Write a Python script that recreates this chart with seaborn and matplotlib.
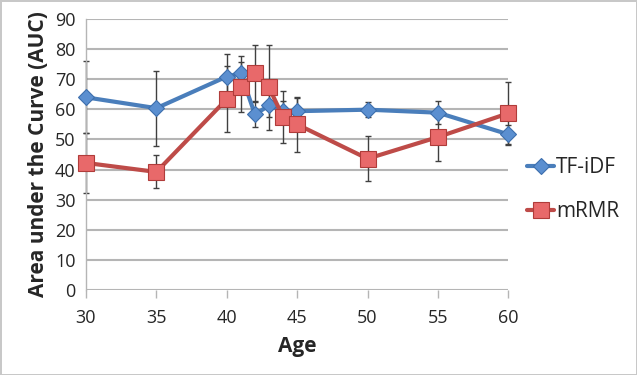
import pandas as pd
import seaborn as sns
import matplotlib.pyplot as plt

# values
ages = [30, 35, 40, 41, 42, 43, 44, 45, 50, 55, 60]
tfidf_auc = [64.0, 60.4, 70.9, 72.0, 58.3, 61.3, 59.4, 59.4, 59.9, 58.9, 51.7]
tfidf_err = [12.0, 12.5, 7.4, 5.6, 4.2, 3.7, 3.3, 4.4, 2.5, 3.8, 3.2]
mrmr_auc = [42.2, 39.2, 63.4, 67.5, 72.0, 67.3, 57.4, 55.0, 43.6, 50.8, 58.7]
mrmr_err = [10.0, 5.5, 11.0, 8.4, 9.3, 14.2, 8.6, 9.2, 7.4, 8.1, 10.4]

df = pd.DataFrame({
    'Age': ages * 2,
    'AUC': tfidf_auc + mrmr_auc,
    'err': tfidf_err + mrmr_err,
    'Method': ['TF-iDF'] * len(ages) + ['mRMR'] * len(ages),
})

sns.set_style('white')
plt.rcParams['font.family'] = ['Open Sans', 'DejaVu Sans']

fig = plt.figure(figsize=(6.37, 3.75), dpi=100, edgecolor='#c8c8c8', linewidth=2)
ax = fig.add_axes([0.135, 0.227, 0.663, 0.722])

line_cols = {'TF-iDF': '#4a7ebb', 'mRMR': '#be4b48'}
face_cols = {'TF-iDF': '#5b8fd0', 'mRMR': '#e8696a'}
edge_cols = {'TF-iDF': '#3d6fad', 'mRMR': '#b03c3a'}
marks = {'TF-iDF': 'D', 'mRMR': 's'}
sizes = {'TF-iDF': 8, 'mRMR': 11}

# error bars first so the markers sit on top
for name, grp in df.groupby('Method', sort=False):
    eb = ax.errorbar(grp['Age'], grp['AUC'], yerr=grp['err'], fmt='none',
                     ecolor='#404040', elinewidth=1, capsize=2.5, capthick=1, zorder=2)
    for art in eb.lines[1] + eb.lines[2]:
        art.set_clip_on(False)

for name, grp in df.groupby('Method', sort=False):
    sns.lineplot(data=grp, x='Age', y='AUC', ax=ax, color=line_cols[name],
                 linewidth=3, marker=marks[name], markersize=sizes[name],
                 markerfacecolor=face_cols[name], markeredgecolor=edge_cols[name],
                 markeredgewidth=0.8, label=name, zorder=3, clip_on=False)

ax.set_xlim(30, 60)
ax.set_ylim(0, 90)
ax.set_xticks(range(30, 61, 5))
ax.set_yticks(range(0, 91, 10))
ax.yaxis.grid(True, color='#b5b5b5', linewidth=1.5)
ax.set_axisbelow(True)
for s in ['top', 'right', 'bottom']:
    ax.spines[s].set_visible(False)
ax.spines['left'].set_color('#b5b5b5')
ax.spines['left'].set_linewidth(1)
ax.tick_params(axis='x', which='both', bottom=True, length=6, width=1,
               color='#b5b5b5', labelsize=13, pad=8)
ax.tick_params(axis='y', left=False, labelsize=13, pad=4)

ax.set_xlabel('Age', fontsize=15, fontweight='bold', labelpad=6)
ax.set_ylabel('Area under the Curve (AUC)', fontsize=15, fontweight='bold', labelpad=4)

ax.legend(loc='center left', bbox_to_anchor=(1.0, 0.37), frameon=False,
          fontsize=15, handlelength=1.3, handletextpad=0.1, labelspacing=1.1,
          borderaxespad=0.5)

fig.savefig('out.png', dpi=100)
